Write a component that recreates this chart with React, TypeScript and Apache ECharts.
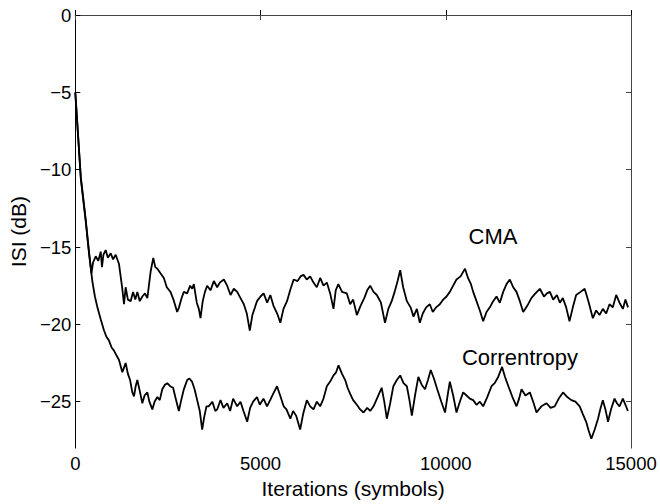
import React, { useEffect, useRef } from "react";
import * as echarts from "echarts";

const xTicks = [0, 5000, 10000, 15000];
const yTicks = [0, -5, -10, -15, -20, -25];

const cmaIter = [
  0, 150, 280, 370, 436, 480, 552, 620, 687, 720, 760, 821, 880, 956, 1020, 1090, 1180, 1270, 1315, 1360,
  1420, 1495, 1560, 1620, 1675, 1740, 1810, 1880, 1945, 2033, 2105, 2160, 2215, 2300, 2390, 2470, 2570, 2650, 2750, 2800,
  2870, 2930, 3020, 3100, 3155, 3200, 3280, 3335, 3380, 3440, 3500, 3560, 3650, 3740, 3830, 3900, 4010, 4100, 4190, 4280,
  4370, 4460, 4550, 4630, 4710, 4780, 4850, 4905, 5000, 5085, 5180, 5265, 5350, 5450, 5535, 5620, 5715, 5800, 5895, 6000,
  6080, 6160, 6250, 6340, 6430, 6520, 6610, 6700, 6790, 6880, 6970, 7030, 7100, 7200, 7330, 7420, 7500, 7600, 7700, 7800,
  7880, 7960, 8050, 8140, 8250, 8360, 8450, 8540, 8620, 8700, 8770, 8850, 8950, 9050, 9130, 9220, 9300, 9380, 9470, 9570,
  9650, 9740, 9840, 9930, 10020, 10110, 10200, 10290, 10400, 10520, 10600, 10680, 10740, 10830, 10920, 11010, 11100, 11190, 11280, 11370,
  11460, 11550, 11640, 11730, 11820, 11910, 12000, 12090, 12200, 12310, 12420, 12540, 12650, 12730, 12810, 12900, 13000, 13080, 13160, 13250,
  13340, 13430, 13520, 13640, 13750, 13850, 13970, 14060, 14150, 14240, 14330, 14420, 14510, 14600, 14690, 14780, 14850, 14920,
];
const cmaISI = [
  -5.0, -10.5, -13.2, -15.3, -16.7, -16.0, -15.6, -15.9, -15.3, -16.3, -15.5, -15.2, -15.7, -15.4, -15.8, -15.5, -16.1, -17.7, -18.7, -17.6,
  -18.4, -18.5, -17.9, -18.4, -17.9, -18.5, -18.2, -18.0, -18.3, -16.6, -15.7, -16.3, -16.4, -16.7, -17.0, -17.6, -17.9, -18.4, -19.2, -18.9,
  -18.3, -17.9, -18.0, -17.5, -17.7, -17.4, -18.6, -19.0, -19.6, -18.5, -17.9, -17.5, -17.8, -17.2, -17.6, -17.3, -17.1, -17.5, -18.1, -17.7,
  -17.9, -18.3, -18.7, -19.3, -20.4, -19.4, -18.9, -18.5, -18.2, -18.0, -18.6, -18.1, -18.8, -19.3, -19.9, -19.0, -18.5, -17.8, -17.1, -17.2,
  -16.9, -16.8, -17.1, -16.9, -17.3, -17.6, -17.0, -17.5, -17.3, -18.0, -19.0, -17.8, -17.4, -17.9, -18.0, -18.7, -18.4, -19.4, -18.8, -18.3,
  -17.8, -17.5, -17.9, -18.1, -18.6, -19.9, -19.0, -18.5, -17.9, -17.2, -16.5, -17.6, -18.5, -18.9, -19.5, -19.0, -19.9, -19.3, -18.9, -18.7,
  -19.2, -18.9, -18.7, -18.4, -18.2, -17.9, -17.5, -17.1, -16.9, -16.4, -17.0, -17.4, -17.9, -18.5, -19.1, -19.8, -19.2, -18.9, -18.5, -18.2,
  -18.6, -17.9, -17.4, -17.1, -17.6, -17.9, -18.5, -19.2, -18.8, -18.3, -18.0, -17.7, -18.2, -18.0, -17.9, -18.4, -18.1, -18.6, -18.3, -18.9,
  -19.8, -18.9, -18.1, -17.9, -17.7, -18.5, -19.6, -19.1, -19.4, -19.0, -19.3, -18.7, -18.9, -18.1, -18.6, -19.0, -18.4, -18.9,
];

const corrIter = [
  0, 150, 280, 370, 463, 530, 597, 690, 776, 840, 910, 980, 1045, 1110, 1180, 1270, 1315, 1360, 1420, 1480,
  1540, 1585, 1630, 1675, 1740, 1810, 1870, 1945, 2000, 2080, 2140, 2215, 2280, 2348, 2420, 2482, 2560, 2640, 2700, 2795,
  2860, 2930, 3020, 3080, 3150, 3220, 3290, 3360, 3425, 3480, 3540, 3600, 3700, 3780, 3830, 3920, 4000, 4100, 4180, 4260,
  4370, 4460, 4540, 4640, 4720, 4800, 4905, 4980, 5080, 5175, 5260, 5340, 5445, 5530, 5625, 5700, 5805, 5880, 5960, 6070,
  6150, 6250, 6340, 6430, 6520, 6610, 6700, 6790, 6880, 6970, 7040, 7105, 7200, 7285, 7350, 7420, 7500, 7600, 7690, 7780,
  7880, 7960, 8050, 8160, 8270, 8340, 8410, 8500, 8585, 8680, 8770, 8860, 8950, 9020, 9085, 9170, 9260, 9350, 9440, 9520,
  9595, 9680, 9770, 9880, 9980, 10050, 10110, 10200, 10290, 10380, 10470, 10560, 10650, 10740, 10830, 10920, 11010, 11120, 11235, 11320,
  11415, 11520, 11600, 11690, 11800, 11910, 11980, 12045, 12150, 12270, 12360, 12450, 12580, 12720, 12830, 12940, 13050, 13165, 13280, 13390,
  13500, 13615, 13700, 13790, 13860, 13930, 14020, 14110, 14180, 14240, 14310, 14380, 14460, 14555, 14620, 14690, 14780, 14850, 14915,
];
const corrISI = [
  -5.0, -10.6, -13.3, -15.4, -17.25, -18.2, -18.9, -19.7, -20.4, -20.8, -21.05, -21.5, -21.7, -22.0, -22.3, -23.1, -22.8, -22.5, -23.2, -23.6,
  -24.4, -24.65, -24.0, -23.6, -24.3, -25.1, -24.6, -24.4, -25.0, -25.5, -25.0, -24.7, -24.9, -24.2, -23.9, -23.8, -24.0, -24.1, -24.7, -25.6,
  -24.9, -24.2, -23.6, -23.5, -23.7, -24.2, -24.9, -25.6, -26.8, -26.0, -25.3, -25.3, -25.0, -25.6, -25.5, -24.9, -25.4, -25.1, -25.6, -24.8,
  -25.3, -25.0, -25.6, -26.3, -25.4, -25.0, -24.7, -25.2, -24.8, -25.3, -24.9, -24.5, -24.0, -24.6, -25.3, -25.5, -26.1, -25.6, -25.9, -26.8,
  -25.8, -24.9, -25.3, -25.5, -25.0, -25.3, -24.8, -24.0, -23.7, -23.3, -23.1, -22.65, -23.2, -23.6, -24.1, -24.5, -24.9, -25.2, -25.5, -25.7,
  -25.4, -25.6, -25.3, -24.7, -24.1, -25.0, -26.1, -25.1, -24.0, -23.6, -23.3, -23.8, -24.0, -24.9, -25.9, -24.6, -23.4, -23.9, -24.2, -23.6,
  -22.95, -23.5, -24.2, -25.0, -25.7, -24.6, -23.7, -24.6, -25.7, -25.0, -24.4, -24.6, -24.8, -24.9, -25.2, -25.0, -25.3, -24.7, -24.0, -23.8,
  -23.4, -22.75, -23.4, -24.0, -24.7, -25.3, -24.8, -24.2, -24.6, -24.4, -25.0, -25.7, -25.3, -25.1, -25.4, -25.3, -24.8, -24.4, -24.7, -24.9,
  -25.0, -25.3, -25.8, -26.3, -26.9, -27.4, -26.8, -26.1, -25.4, -24.9, -25.5, -26.3, -25.5, -24.8, -25.1, -25.3, -24.8, -25.2, -25.6,
];

const FONT = '"Liberation Sans", Arial, Helvetica, sans-serif';
const fmtY = (v: number) => (v < 0 ? "\u2212" + String(-v) : String(v));
const fmtX = (v: number) => String(v);

export default function App() {
  const ref = useRef<HTMLDivElement>(null);
  useEffect(() => {
    if (!ref.current) return;
    const chart = echarts.init(ref.current, undefined, { renderer: "svg" });
    const cmaData = cmaIter.map((x, i) => [x, cmaISI[i]]);
    const corrData = corrIter.map((x, i) => [x, corrISI[i]]);
    const lineCol = "#000";
    const boxCol = "#444";
    chart.setOption({
      animation: false,
      backgroundColor: "#fff",
      textStyle: { fontFamily: FONT },
      grid: { left: 74, right: 29, top: 15, bottom: 48 },
      xAxis: [
        {
          type: "value",
          min: 0,
          max: 15000,
          interval: 5000,
          name: "Iterations (symbols)",
          nameLocation: "middle",
          nameGap: 24,
          nameTextStyle: { fontSize: 21, color: "#000", fontFamily: FONT },
          axisLine: { show: true, lineStyle: { color: lineCol, width: 1 } },
          axisTick: { show: true, inside: true, length: 5, customValues: xTicks, lineStyle: { color: lineCol } },
          axisLabel: { show: true, margin: 6, fontSize: 18.5, color: "#000", fontFamily: FONT, customValues: xTicks, formatter: fmtX },
          splitLine: { show: false },
        },
        {
          type: "value",
          position: "top",
          min: 0,
          max: 15000,
          interval: 5000,
          axisLine: { show: true, onZero: false, lineStyle: { color: boxCol, width: 1 } },
          axisTick: { show: true, inside: true, length: 5, customValues: xTicks, lineStyle: { color: boxCol } },
          axisLabel: { show: false, customValues: xTicks },
          splitLine: { show: false },
        },
      ],
      yAxis: [
        {
          type: "value",
          min: -28,
          max: 0,
          name: "ISI (dB)",
          nameLocation: "middle",
          nameGap: 46,
          nameTextStyle: { fontSize: 21, color: "#000", fontFamily: FONT },
          axisLine: { show: true, onZero: false, lineStyle: { color: lineCol, width: 1 } },
          axisTick: { show: true, inside: true, length: 5, customValues: yTicks, lineStyle: { color: lineCol } },
          axisLabel: { show: true, margin: 4, fontSize: 18.5, color: "#000", fontFamily: FONT, customValues: yTicks, formatter: fmtY },
          splitLine: { show: false },
        },
        {
          type: "value",
          position: "right",
          min: -28,
          max: 0,
          axisLine: { show: true, onZero: false, lineStyle: { color: boxCol, width: 1 } },
          axisTick: { show: true, inside: true, length: 5, customValues: yTicks, lineStyle: { color: boxCol } },
          axisLabel: { show: false, customValues: yTicks },
          splitLine: { show: false },
        },
      ],
      series: [
        {
          name: "CMA",
          type: "line",
          data: cmaData,
          showSymbol: false,
          symbol: "none",
          lineStyle: { color: "#000", width: 1.8 },
          z: 3,
        },
        {
          name: "Correntropy",
          type: "line",
          data: corrData,
          showSymbol: false,
          symbol: "none",
          lineStyle: { color: "#000", width: 1.8 },
          z: 3,
        },
      ],
      graphic: [
        {
          type: "text",
          x: 493,
          y: 236,
          style: { text: "CMA", fontSize: 22, fill: "#000", fontFamily: FONT, textAlign: "center", textVerticalAlign: "middle" },
        },
        {
          type: "text",
          x: 520,
          y: 357,
          style: { text: "Correntropy", fontSize: 22, fill: "#000", fontFamily: FONT, textAlign: "center", textVerticalAlign: "middle" },
        },
      ],
    });
    return () => chart.dispose();
  }, []);
  return <div ref={ref} style={{ position: "fixed", left: 0, top: 0, width: 660, height: 504, background: "#fff" }} />;
}
